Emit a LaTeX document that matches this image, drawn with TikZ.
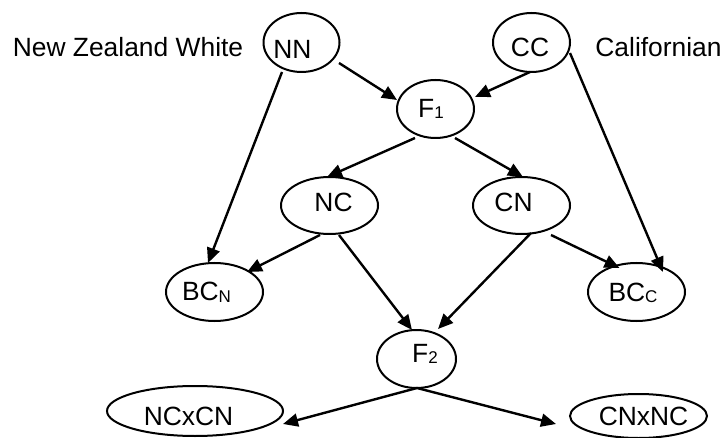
\documentclass[tikz,border=0pt]{standalone}
\usepackage{fontspec}
\setmainfont{Liberation Sans}
\usetikzlibrary{arrows.meta,shapes.geometric}
% small, slightly lowered index letter (F1, BCN, ...)
\newcommand\lowsub[1]{\raisebox{-1.5pt}{\fontsize{17}{17}\selectfont #1}}

\begin{document}
\begin{tikzpicture}[x=1pt,y=-1pt,
  every node/.style={font=\fontsize{26.4}{30}\selectfont},
  oval/.style={ellipse, draw, line width=2pt, inner sep=0pt},
  txt/.style={inner sep=0pt},
  link/.style={line width=2.4pt, -{Triangle[length=15pt,width=13pt]}}]
\useasboundingbox (0,0) rectangle (725,438);

% parent lines
\node[oval, minimum width=76pt, minimum height=59pt,
  label={[txt,xshift=-9pt,yshift=-6.5pt]center:NN}] (NN) at (301.5,42.5) {};
\node[oval, minimum width=77pt, minimum height=59pt,
  label={[txt,xshift=-1.5pt,yshift=-5pt]center:CC}] (CC) at (531.5,42.5) {};
\node[txt, anchor=base] (nzw) at (128,57) {New Zealand White};
\node[txt, anchor=base] (cal) at (658.5,57) {Californian};

% first cross
\node[oval, minimum width=77pt, minimum height=58pt,
  label={[txt,xshift=-4.5pt,yshift=0pt]center:F\lowsub{1}}] (F1) at (435.5,109) {};

% reciprocal crosses
\node[oval, minimum width=97pt, minimum height=57pt,
  label={[txt,xshift=4pt,yshift=3.5pt]center:NC}] (NC) at (329.5,205.5) {};
\node[oval, minimum width=97pt, minimum height=57pt,
  label={[txt,xshift=-8pt,yshift=3.5pt]center:CN}] (CN) at (521.5,205.5) {};

% backcrosses
\node[oval, minimum width=97pt, minimum height=58pt,
  label={[txt,xshift=-8pt,yshift=-0.5pt]center:BC\lowsub{N}}] (BCN) at (214.5,292) {};
\node[oval, minimum width=97pt, minimum height=58pt,
  label={[txt,xshift=-3.5pt,yshift=-1pt]center:BC\lowsub{C}}] (BCC) at (636.5,292) {};

% second generation
\node[oval, minimum width=79pt, minimum height=58pt,
  label={[txt,xshift=8.5pt,yshift=5pt]center:F\lowsub{2}}] (F2) at (416.5,359) {};
\node[oval, minimum width=176pt, minimum height=50pt,
  label={[txt,xshift=-6.5pt,yshift=-5.5pt]center:NCxCN}] (NCxCN) at (195,411) {};
\node[oval, minimum width=137pt, minimum height=44pt,
  label={[txt,xshift=5pt,yshift=0pt]center:CNxNC}] (CNxNC) at (638.5,416) {};

% matings
\draw[link] ([shift={(37.5,20.5)}]NN.center) -- ([shift={(-38.5,-9)}]F1.center);
\draw[link] ([shift={(-1.5,29.5)}]CC.center) -- ([shift={(39.5,-12)}]F1.center);
\draw[link] ([shift={(-19.5,29.5)}]NN.center) -- ([shift={(-6.5,-29)}]BCN.center);
\draw[link] ([shift={(38.5,10.5)}]CC.center) -- ([shift={(26.5,-20)}]BCC.center);
\draw[link] ([shift={(-20.5,29)}]F1.center) -- ([shift={(-2.5,-28.5)}]NC.center);
\draw[link] ([shift={(19.5,29)}]F1.center) -- ([shift={(1.5,-28.5)}]CN.center);
\draw[link] ([shift={(-9.5,29.5)}]NC.center) -- ([shift={(32.5,-20)}]BCN.center);
\draw[link] ([shift={(29.5,29.5)}]CN.center) -- ([shift={(-17,-24)}]BCC.center);
\draw[link] ([shift={(9.5,29.5)}]NC.center) -- ([shift={(-4.5,-29)}]F2.center);
\draw[link] ([shift={(9.5,27.5)}]CN.center) -- ([shift={(21.5,-30)}]F2.center);
\draw[link] ([shift={(0.5,29)}]F2.center) -- ([shift={(88,13)}]NCxCN.center);
\draw[link] ([shift={(0.5,29)}]F2.center) -- ([shift={(-82.5,8)}]CNxNC.center);
\end{tikzpicture}
\end{document}
